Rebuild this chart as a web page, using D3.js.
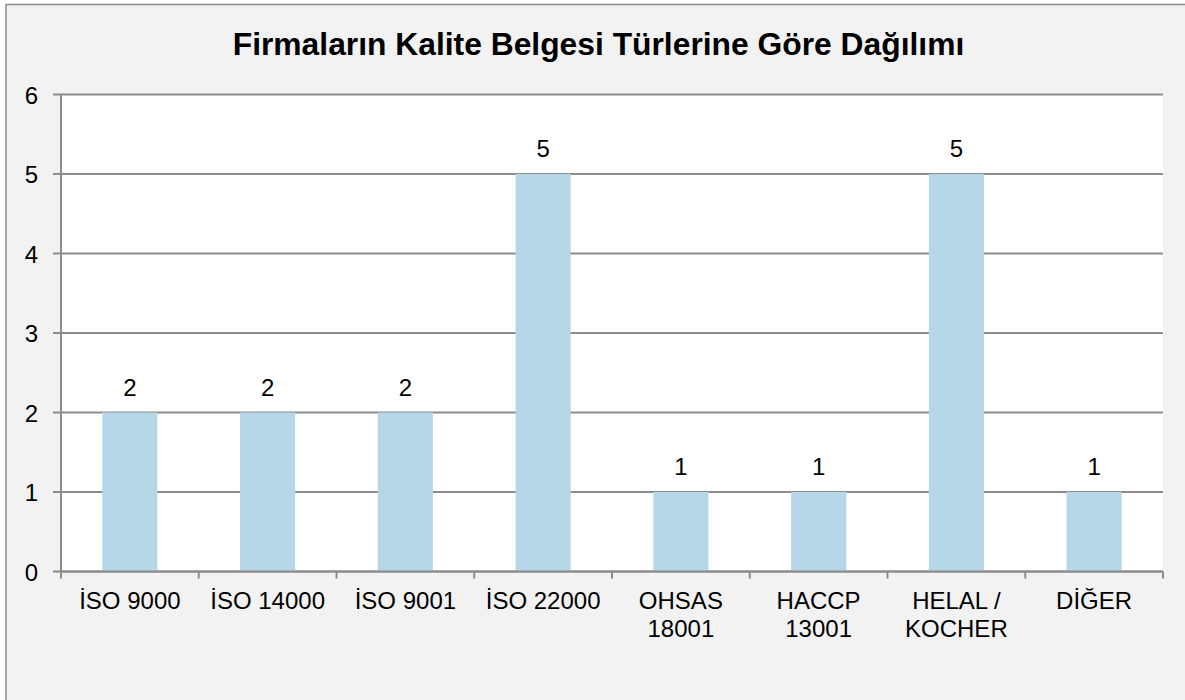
<!DOCTYPE html>
<html><head><meta charset="utf-8">
<script src="https://cdn.jsdelivr.net/npm/d3@7"></script>
<style>
html,body{margin:0;padding:0;background:#fff;}
svg{display:block;font-family:"Liberation Sans",Arial,sans-serif;}
</style></head>
<body><svg id="c" width="1185" height="700"></svg>
<script>
const title = "Firmaların Kalite Belgesi Türlerine Göre Dağılımı";
const categories = ["İSO 9000","İSO 14000","İSO 9001","İSO 22000","OHSAS 18001","HACCP 13001","HELAL / KOCHER","DİĞER"];
const values = [2,2,2,5,1,1,5,1];
const yTicks = [0,1,2,3,4,5,6];

const svg = d3.select("#c");
const W = 1185, H = 700;
const m = {left:61, right:1163, top:94.5, bottom:571.5};

svg.append("rect").attr("x",0).attr("y",0).attr("width",W).attr("height",H).attr("fill","#fff");
svg.append("rect").attr("x",6).attr("y",4.5).attr("width",1190).attr("height",720)
  .attr("fill","#f2f2f2").attr("stroke","#8c8c8c").attr("stroke-width",1.5);

svg.append("text").attr("x",598.5).attr("y",55).attr("text-anchor","middle")
  .attr("font-size",31.8).attr("font-weight","bold").attr("fill","#000").text(title);

const x = d3.scaleBand().domain(categories).range([m.left,m.right]).paddingInner(0.6).paddingOuter(0.3);
const y = d3.scaleLinear().domain([0,6]).range([m.bottom,m.top]);

svg.append("rect").attr("x",m.left).attr("y",m.top).attr("width",m.right-m.left).attr("height",m.bottom-m.top).attr("fill","#fff");

// gridlines
svg.append("g").selectAll("line").data(yTicks).join("line")
  .attr("x1",m.left-8).attr("x2",m.right).attr("y1",d=>y(d)).attr("y2",d=>y(d))
  .attr("stroke","#8c8c8c").attr("stroke-width",2);

// bars
svg.append("g").selectAll("rect").data(values).join("rect")
  .attr("x",(d,i)=>x(categories[i])).attr("width",x.bandwidth())
  .attr("y",d=>y(d)).attr("height",d=>y(0)-y(d)).attr("fill","#b6d7e8");

// y axis
const yAxis = d3.axisLeft(y).tickValues(yTicks).tickFormat(d3.format("d")).tickSize(0).tickPadding(0);
const gy = svg.append("g").attr("transform",`translate(${m.left},0)`).call(yAxis);
gy.select(".domain").remove();
gy.attr("font-size",null).attr("font-family",null);
gy.selectAll("text").attr("x",-23).attr("dy","0.36em").attr("font-size",24).attr("fill","#000");
svg.append("line").attr("x1",m.left).attr("x2",m.left).attr("y1",m.top).attr("y2",m.bottom+7)
  .attr("stroke","#8c8c8c").attr("stroke-width",2);

// x axis ticks at band boundaries
const bounds = d3.range(categories.length+1).map(i=>m.left + i*(m.right-m.left)/categories.length);
svg.append("g").selectAll("line").data(bounds).join("line")
  .attr("x1",d=>d).attr("x2",d=>d).attr("y1",m.bottom).attr("y2",m.bottom+7)
  .attr("stroke","#8c8c8c").attr("stroke-width",2);
svg.append("line").attr("x1",m.left).attr("x2",m.right).attr("y1",y(0)).attr("y2",y(0))
  .attr("stroke","#8c8c8c").attr("stroke-width",2);

// category labels with wrapping
const bandW = (m.right-m.left)/categories.length;
const fs = 24;
const measure = svg.append("text").attr("font-size",fs).attr("visibility","hidden");
function wrap(str){
  const words = str.split(" ");
  const lines = []; let cur = "";
  for(const w of words){
    const t = cur ? cur+" "+w : w;
    measure.text(t);
    if(measure.node().getComputedTextLength() > bandW-10 && cur){ lines.push(cur); cur = w; }
    else cur = t;
  }
  lines.push(cur);
  return lines;
}
const xl = svg.append("g");
categories.forEach((c,i)=>{
  const cx = x(c)+x.bandwidth()/2;
  const t = xl.append("text").attr("text-anchor","middle").attr("font-size",fs).attr("fill","#000");
  wrap(c).forEach((ln,j)=>{
    t.append("tspan").attr("x",cx).attr("y",609+j*28).text(ln);
  });
});
measure.remove();

// data labels
svg.append("g").selectAll("text").data(values).join("text")
  .attr("x",(d,i)=>x(categories[i])+x.bandwidth()/2).attr("y",d=>y(d)-17)
  .attr("text-anchor","middle").attr("font-size",24).attr("fill","#000").text(d=>d);
</script></body></html>
